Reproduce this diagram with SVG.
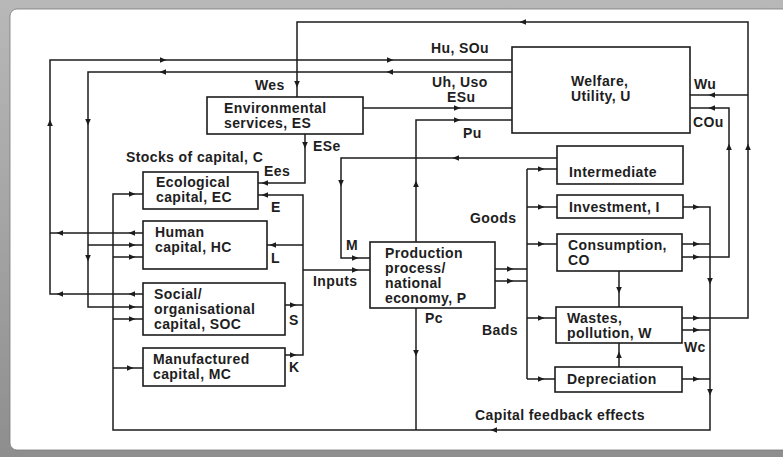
<svg xmlns="http://www.w3.org/2000/svg" xmlns:xlink="http://www.w3.org/1999/xlink" width="783" height="457" viewBox="0 0 783 457">
  <defs>
    <linearGradient id="frame" x1="0" y1="0" x2="0" y2="1">
      <stop offset="0" stop-color="#b8b8b8"/>
      <stop offset="0.5" stop-color="#a4a4a4"/>
      <stop offset="1" stop-color="#8e8e8e"/>
    </linearGradient>
    <path id="ah" d="M3.5,0 L-3,-2.8 L-3,2.8 Z" fill="#1c1c1c"/>
    <style>
      .box { fill: #ffffff; stroke: #1c1c1c; stroke-width: 1.6; }
      .ln { fill: none; stroke: #1c1c1c; stroke-width: 1.5; }
      text { font-family: "Liberation Sans", Arial, Helvetica, sans-serif; font-size: 14px; letter-spacing: 0.4px; font-weight: bold; fill: #1e1e1e; }
    </style>
  </defs>

  <!-- picture frame -->
  <rect x="0" y="0" width="783" height="457" fill="url(#frame)"/>
  <rect x="10" y="9" width="790" height="441" rx="7" fill="#ffffff" stroke="#7a7a7a" stroke-width="0.8"/>

  <!-- connectors -->
  <g id="connectors">
    <!-- wastes to environmental services (Wes) and to welfare (Wu) -->
    <path class="ln" d="M682,318 H748 V22 H297 V97"/>
    <path class="ln" d="M748,95 H690"/>
    <!-- consumption to welfare (COu) -->
    <path class="ln" d="M682,257 H729 V108 H690"/>
    <!-- human / social capital to welfare (Uh, Uso) -->
    <path class="ln" d="M143,233 H50 M143,294 H50 V60 H512"/>
    <!-- welfare to human / social capital (Hu, SOu) -->
    <path class="ln" d="M512,72 H88 V307 H143 M88,245 H143"/>
    <!-- environmental services to welfare (ESu) -->
    <path class="ln" d="M363,108 H512"/>
    <!-- production to welfare (Pu) -->
    <path class="ln" d="M416,242 V120 H512"/>
    <!-- environmental services to ecological capital (ESe, Ees) -->
    <path class="ln" d="M305,134 V183 H258"/>
    <!-- capital inputs bus (E, L, S, K) -->
    <path class="ln" d="M258,195 H303 V355 H285 M267,245 H303 M285,305 H303"/>
    <path class="ln" d="M303,270 H370"/>
    <!-- intermediate goods back to production (M) -->
    <path class="ln" d="M557,158 H341 V258 H370"/>
    <!-- production outputs -->
    <path class="ln" d="M495,269 H527 M495,281 H527"/>
    <!-- goods / bads distribution bus -->
    <path class="ln" d="M527,169 V379 M527,169 H557 M527,207 H557 M527,244 H557 M527,318 H556 M527,379 H555"/>
    <!-- capital feedback loop -->
    <path class="ln" d="M683,207 H710 V430 H113 V194 H143 M113,257 H143 M113,319 H143 M113,368 H143"/>
    <path class="ln" d="M682,244 H710 M682,330 H710 M682,379 H710"/>
    <!-- production to capital feedback (Pc) -->
    <path class="ln" d="M416,308 V430"/>
    <!-- consumption and depreciation to wastes -->
    <path class="ln" d="M619,271 V307 M619,367 V343"/>

    <!-- arrowheads -->
    <use xlink:href="#ah" transform="translate(696,318)"/>
    <use xlink:href="#ah" transform="translate(748,147) rotate(-90)"/>
    <use xlink:href="#ah" transform="translate(523,22) rotate(180)"/>
    <use xlink:href="#ah" transform="translate(297,84) rotate(90)"/>
    <use xlink:href="#ah" transform="translate(712,95) rotate(180)"/>
    <use xlink:href="#ah" transform="translate(696,257)"/>
    <use xlink:href="#ah" transform="translate(729,147) rotate(-90)"/>
    <use xlink:href="#ah" transform="translate(712,108) rotate(180)"/>

    <use xlink:href="#ah" transform="translate(132,233) rotate(180)"/>
    <use xlink:href="#ah" transform="translate(60,233) rotate(180)"/>
    <use xlink:href="#ah" transform="translate(132,294) rotate(180)"/>
    <use xlink:href="#ah" transform="translate(60,294) rotate(180)"/>
    <use xlink:href="#ah" transform="translate(50,123) rotate(-90)"/>
    <use xlink:href="#ah" transform="translate(163,60)"/>
    <use xlink:href="#ah" transform="translate(390,60)"/>

    <use xlink:href="#ah" transform="translate(390,72) rotate(180)"/>
    <use xlink:href="#ah" transform="translate(163,72) rotate(180)"/>
    <use xlink:href="#ah" transform="translate(88,122) rotate(90)"/>
    <use xlink:href="#ah" transform="translate(88,258) rotate(90)"/>
    <use xlink:href="#ah" transform="translate(132,245)"/>
    <use xlink:href="#ah" transform="translate(132,307)"/>

    <use xlink:href="#ah" transform="translate(457,108)"/>
    <use xlink:href="#ah" transform="translate(416,184) rotate(-90)"/>
    <use xlink:href="#ah" transform="translate(457,120)"/>

    <use xlink:href="#ah" transform="translate(305,145) rotate(90)"/>
    <use xlink:href="#ah" transform="translate(265,183) rotate(180)"/>
    <use xlink:href="#ah" transform="translate(265,195) rotate(180)"/>
    <use xlink:href="#ah" transform="translate(273,245) rotate(180)"/>
    <use xlink:href="#ah" transform="translate(293,305)"/>
    <use xlink:href="#ah" transform="translate(293,355)"/>
    <use xlink:href="#ah" transform="translate(355,270)"/>

    <use xlink:href="#ah" transform="translate(456,158) rotate(180)"/>
    <use xlink:href="#ah" transform="translate(341,183) rotate(90)"/>
    <use xlink:href="#ah" transform="translate(355,258)"/>

    <use xlink:href="#ah" transform="translate(510,269)"/>
    <use xlink:href="#ah" transform="translate(510,281)"/>
    <use xlink:href="#ah" transform="translate(541,169)"/>
    <use xlink:href="#ah" transform="translate(541,207)"/>
    <use xlink:href="#ah" transform="translate(541,244)"/>
    <use xlink:href="#ah" transform="translate(541,318)"/>
    <use xlink:href="#ah" transform="translate(541,379)"/>

    <use xlink:href="#ah" transform="translate(696,207)"/>
    <use xlink:href="#ah" transform="translate(696,244)"/>
    <use xlink:href="#ah" transform="translate(696,330)"/>
    <use xlink:href="#ah" transform="translate(696,379)"/>
    <use xlink:href="#ah" transform="translate(710,281) rotate(90)"/>
    <use xlink:href="#ah" transform="translate(710,392) rotate(90)"/>
    <use xlink:href="#ah" transform="translate(494,430) rotate(180)"/>
    <use xlink:href="#ah" transform="translate(132,194)"/>
    <use xlink:href="#ah" transform="translate(132,257)"/>
    <use xlink:href="#ah" transform="translate(132,319)"/>
    <use xlink:href="#ah" transform="translate(130,368)"/>

    <use xlink:href="#ah" transform="translate(416,353) rotate(90)"/>
    <use xlink:href="#ah" transform="translate(619,290) rotate(90)"/>
    <use xlink:href="#ah" transform="translate(619,355) rotate(-90)"/>
  </g>

  <!-- connector labels -->
  <g id="labels">
    <text x="255" y="90">Wes</text>
    <text x="313" y="151">ESe</text>
    <text x="126" y="162">Stocks of capital, C</text>
    <text x="264" y="176">Ees</text>
    <text x="271" y="212">E</text>
    <text x="271" y="263">L</text>
    <text x="289" y="325">S</text>
    <text x="289" y="372">K</text>
    <text x="346" y="250">M</text>
    <text x="313" y="286">Inputs</text>
    <text x="431" y="53">Hu, SOu</text>
    <text x="432" y="87">Uh, Uso</text>
    <text x="447" y="102">ESu</text>
    <text x="463" y="138">Pu</text>
    <text x="694" y="89">Wu</text>
    <text x="693" y="127">COu</text>
    <text x="470" y="223">Goods</text>
    <text x="482" y="335">Bads</text>
    <text x="425" y="323">Pc</text>
    <text x="684" y="352">Wc</text>
    <text x="475" y="420">Capital feedback effects</text>
  </g>

  <!-- nodes -->
  <g id="node-es">
    <rect class="box" x="207" y="97" width="156" height="37"/>
    <text x="224" y="113">Environmental</text>
    <text x="224" y="128">services, ES</text>
  </g>
  <g id="node-welfare">
    <rect class="box" x="512" y="47" width="178" height="86"/>
    <text x="571" y="86">Welfare,</text>
    <text x="571" y="101">Utility, U</text>
  </g>
  <g id="node-ec">
    <rect class="box" x="143" y="172" width="115" height="37"/>
    <text x="156" y="187">Ecological</text>
    <text x="156" y="202">capital, EC</text>
  </g>
  <g id="node-hc">
    <rect class="box" x="143" y="221" width="124" height="48"/>
    <text x="155" y="237">Human</text>
    <text x="155" y="252">capital, HC</text>
  </g>
  <g id="node-soc">
    <rect class="box" x="143" y="283" width="142" height="52"/>
    <text x="154" y="299">Social/</text>
    <text x="154" y="314">organisational</text>
    <text x="154" y="329">capital, SOC</text>
  </g>
  <g id="node-mc">
    <rect class="box" x="143" y="348" width="142" height="38"/>
    <text x="153" y="364">Manufactured</text>
    <text x="153" y="379">capital, MC</text>
  </g>
  <g id="node-production">
    <rect class="box" x="370" y="242" width="125" height="66"/>
    <text x="385" y="258">Production</text>
    <text x="385" y="273">process/</text>
    <text x="385" y="288">national</text>
    <text x="385" y="303">economy, P</text>
  </g>
  <g id="node-intermediate">
    <rect class="box" x="557" y="146" width="126" height="38"/>
    <text x="569" y="177">Intermediate</text>
  </g>
  <g id="node-investment">
    <rect class="box" x="557" y="195" width="126" height="23"/>
    <text x="569" y="212">Investment, I</text>
  </g>
  <g id="node-consumption">
    <rect class="box" x="557" y="234" width="125" height="37"/>
    <text x="568" y="250">Consumption,</text>
    <text x="568" y="265">CO</text>
  </g>
  <g id="node-wastes">
    <rect class="box" x="556" y="307" width="126" height="36"/>
    <text x="567" y="323">Wastes,</text>
    <text x="567" y="338">pollution, W</text>
  </g>
  <g id="node-depreciation">
    <rect class="box" x="555" y="367" width="127" height="25"/>
    <text x="567" y="384">Depreciation</text>
  </g>
</svg>
